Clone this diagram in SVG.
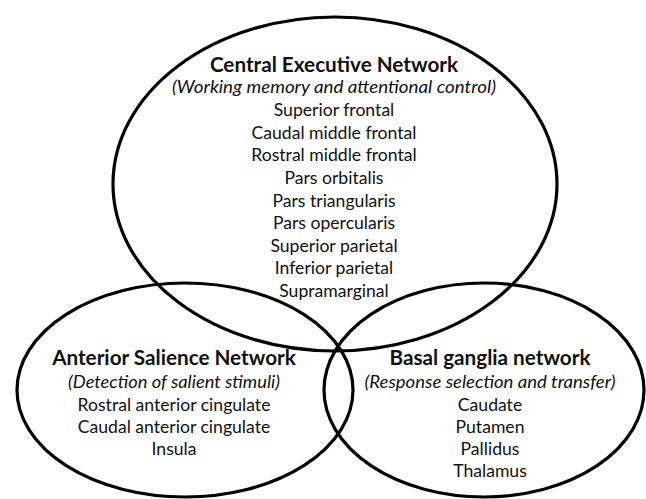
<svg xmlns="http://www.w3.org/2000/svg" width="646" height="499" viewBox="0 0 646 499">
<style>
.ring{fill:none;stroke:#000;stroke-width:3.2}
text{font-family:Lato,"Open Sans","Liberation Sans",sans-serif;fill:#111;text-anchor:middle;font-size:17.6px}
.t{font-weight:bold;font-size:20.7px}
.s{font-style:italic;font-size:17.6px}
</style>
<rect width="646" height="499" fill="#fff"/>
<g id="central-executive">
<ellipse class="ring" cx="335" cy="184" rx="222" ry="167"/>
<text class="t" x="334" y="72">Central Executive Network</text>
<text class="s" x="334" y="93" textLength="324" lengthAdjust="spacingAndGlyphs">(Working memory and attentional control)</text>
<text x="334" y="116">Superior frontal</text>
<text x="334" y="139">Caudal middle frontal</text>
<text x="334" y="161">Rostral middle frontal</text>
<text x="334" y="184">Pars orbitalis</text>
<text x="334" y="207">Pars triangularis</text>
<text x="334" y="229">Pars opercularis</text>
<text x="334" y="252">Superior parietal</text>
<text x="334" y="274">Inferior parietal</text>
<text x="334" y="297">Supramarginal</text>
</g>
<g id="anterior-salience">
<ellipse class="ring" cx="185" cy="390" rx="168" ry="107"/>
<text class="t" x="174" y="365">Anterior Salience Network</text>
<text class="s" x="174" y="388" textLength="212" lengthAdjust="spacingAndGlyphs">(Detection of salient stimuli)</text>
<text x="174" y="411">Rostral anterior cingulate</text>
<text x="174" y="433">Caudal anterior cingulate</text>
<text x="174" y="455">Insula</text>
</g>
<g id="basal-ganglia">
<ellipse class="ring" cx="484" cy="390" rx="160" ry="107"/>
<text class="t" x="490" y="365">Basal ganglia network</text>
<text class="s" x="490" y="388" textLength="251" lengthAdjust="spacingAndGlyphs">(Response selection and transfer)</text>
<text x="490" y="411">Caudate</text>
<text x="490" y="433">Putamen</text>
<text x="490" y="455">Pallidus</text>
<text x="490" y="477">Thalamus</text>
</g>
</svg>
